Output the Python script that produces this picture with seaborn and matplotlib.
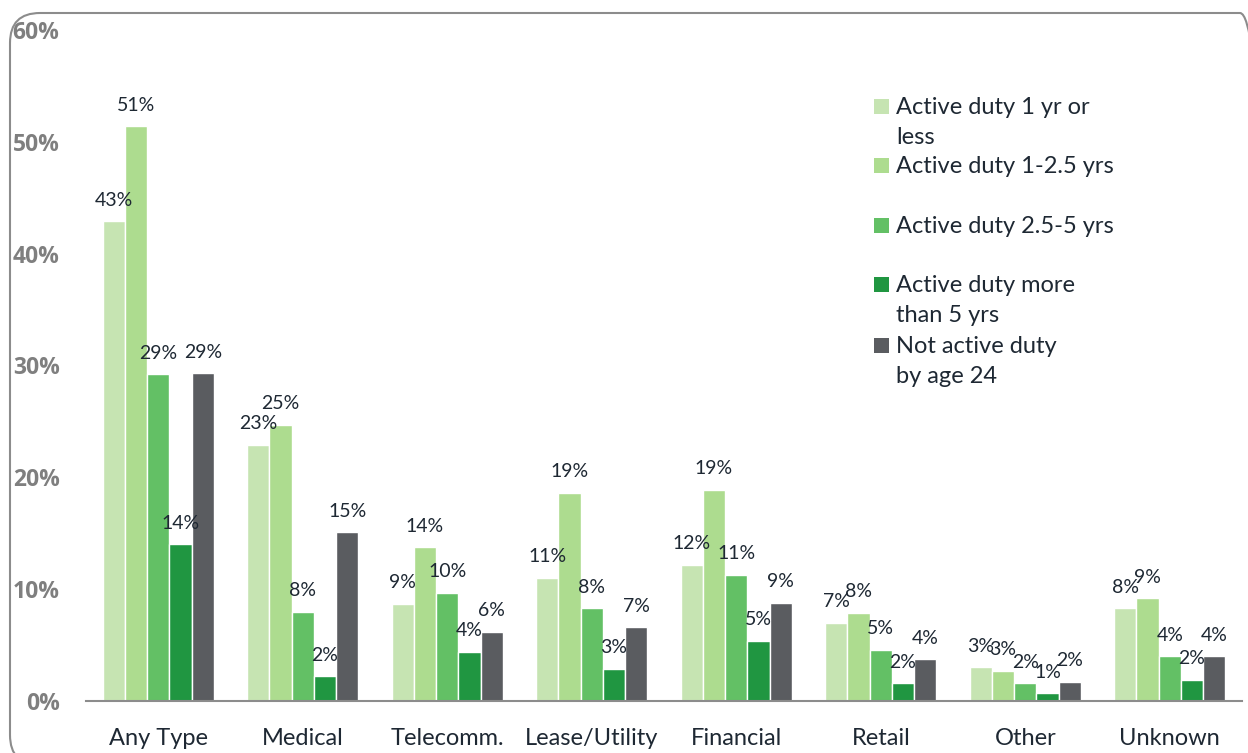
import matplotlib
matplotlib.use("Agg")
import matplotlib.pyplot as plt
from matplotlib.patches import FancyBboxPatch, Rectangle
from matplotlib.ticker import FixedLocator, NullFormatter, FixedFormatter
import seaborn as sns
import pandas as pd

# Share of young adults with debt in collections, by type and military service
categories = ["Any Type", "Medical", "Telecomm.", "Lease/Utility",
              "Financial", "Retail", "Other", "Unknown"]
series = ["Active duty 1 yr or\nless", "Active duty 1-2.5 yrs",
          "Active duty 2.5-5 yrs", "Active duty more\nthan 5 yrs",
          "Not active duty\nby age 24"]
duty_1yr = [42.9, 22.9, 8.7, 11.0, 12.2, 7.0, 3.0, 8.3]
duty_1_25 = [51.4, 24.7, 13.75, 18.6, 18.9, 7.9, 2.7, 9.2]
duty_25_5 = [29.2, 8.0, 9.7, 8.3, 11.3, 4.6, 1.6, 4.0]
duty_5plus = [14.0, 2.2, 4.4, 2.9, 5.4, 1.6, 0.7, 1.9]
not_active = [29.3, 15.1, 6.2, 6.6, 8.8, 3.75, 1.7, 4.0]
y_ticks = [0, 10, 20, 30, 40, 50, 60]

palette = ["#c6e4b2", "#addc8f", "#63c065", "#209641", "#5a5c60"]
text_dark = "#1e2833"
axis_grey = "#8c8c8c"

values = [duty_1yr, duty_1_25, duty_25_5, duty_5plus, not_active]
rows = []
for name, vals in zip(series, values):
    for cat, v in zip(categories, vals):
        rows.append({"category": cat, "series": name, "value": v})
df = pd.DataFrame(rows)

sns.set_style("white")
plt.rcParams["font.family"] = ["Lato", "DejaVu Sans"]

W, H = 1248, 753
fig = plt.figure(figsize=(W / 100, H / 100), dpi=100)
ax = fig.add_axes([86 / W, 1 - 701 / H, (1242 - 86) / W, (701 - 30) / H])

sns.barplot(data=df, x="category", y="value", hue="series", order=categories,
            hue_order=series, palette=palette, saturation=1, width=0.77,
            ax=ax, legend=False)

for container in ax.containers:
    ax.bar_label(container, labels=[f"{b.get_height():.0f}%" for b in container],
                 padding=9, fontsize=14, color=text_dark)

ax.set_xlim(-0.5, len(categories) - 0.5)
ax.set_ylim(0, 60)
ax.set_xlabel("")
ax.set_ylabel("")

# y axis: bold grey percentages, no ticks or spine
ax.yaxis.set_major_locator(FixedLocator(y_ticks))
ax.set_yticklabels([f"{t}%" for t in y_ticks], fontweight="bold",
                   family=["Open Sans", "DejaVu Sans"],
                   fontsize=16.5, color="#7f7f7f")
ax.tick_params(axis="y", length=0, pad=19)

# x axis: boundary ticks crossing the axis, labels at category centres
boundaries = [i - 0.5 for i in range(len(categories) + 1)]
centres = list(range(len(categories)))
ax.xaxis.set_major_locator(FixedLocator(boundaries))
ax.xaxis.set_major_formatter(NullFormatter())
ax.xaxis.set_minor_locator(FixedLocator(centres))
ax.xaxis.set_minor_formatter(FixedFormatter(categories))
ax.tick_params(axis="x", which="major", direction="inout", length=11,
               width=1.5, color=axis_grey)
ax.tick_params(axis="x", which="minor", direction="out", length=5.5,
               width=1.5, color=axis_grey, pad=14, labelsize=17,
               labelcolor=text_dark)

for side in ["top", "right", "left"]:
    ax.spines[side].set_visible(False)
ax.spines["bottom"].set_color(axis_grey)
ax.spines["bottom"].set_linewidth(1.5)

# legend drawn beside the bars
legend_rows = [108, 167, 227, 286, 347]
for name, color, ypix in zip(series, palette, legend_rows):
    fig.add_artist(Rectangle((874 / W, 1 - (ypix + 6) / H), 15 / W, 15 / H,
                             transform=fig.transFigure, facecolor=color,
                             edgecolor="none"))
    fig.text(896 / W, 1 - (ypix - 11) / H, name, ha="left", va="top",
             fontsize=17, color=text_dark, linespacing=1.55)

# rounded frame around the chart
frame = FancyBboxPatch((0.10, -0.12), 12.60, 7.52,
                       boxstyle="round,pad=0,rounding_size=0.3",
                       transform=fig.dpi_scale_trans, facecolor="none",
                       edgecolor=axis_grey, linewidth=1.5, clip_on=False)
fig.add_artist(frame)

fig.savefig("out.png", dpi=100)
